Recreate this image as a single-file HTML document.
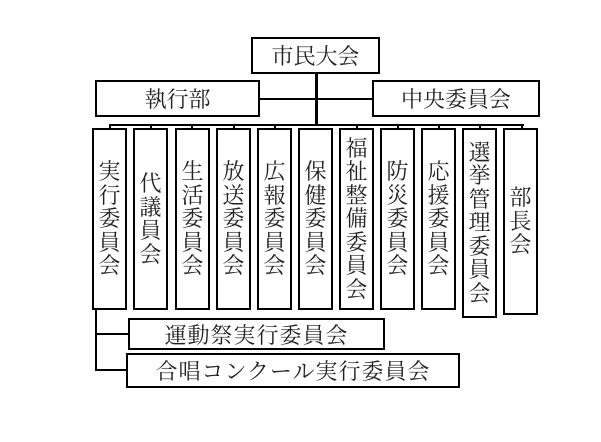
<!DOCTYPE html>
<html><head><meta charset="utf-8"><style>
body{margin:0;width:601px;height:442px;background:#fff;position:relative;overflow:hidden;font-family:"Liberation Serif","Noto Serif CJK JP","Noto Serif CJK SC",serif;}
.b{position:absolute;border:2px solid #000;box-sizing:border-box;background:#fff;display:flex;align-items:center;justify-content:center;font-size:22px;color:#222;white-space:nowrap;}
.v{flex-direction:column;line-height:23.5px;}
.l{position:absolute;background:#000;}
</style></head><body>
<div class="l" style="left:315px;top:72px;width:3px;height:54px"></div>
<div class="l" style="left:258px;top:98px;width:116px;height:2px"></div>
<div class="l" style="left:110px;top:124px;width:414px;height:2px"></div>
<div class="b" style="left:251px;top:37px;width:129px;height:37px">市民大会</div>
<div class="b" style="left:95px;top:80px;width:165px;height:37px">執行部</div>
<div class="b" style="left:372px;top:80px;width:168px;height:37px">中央委員会</div>

<div class="l" style="left:109px;top:124px;width:2px;height:6px"></div>
<div class="l" style="left:150px;top:124px;width:2px;height:6px"></div>
<div class="l" style="left:191px;top:124px;width:2px;height:6px"></div>
<div class="l" style="left:233px;top:124px;width:2px;height:6px"></div>
<div class="l" style="left:274px;top:124px;width:2px;height:6px"></div>
<div class="l" style="left:356px;top:124px;width:2px;height:6px"></div>
<div class="l" style="left:397px;top:124px;width:2px;height:6px"></div>
<div class="l" style="left:438px;top:124px;width:2px;height:6px"></div>
<div class="l" style="left:479px;top:124px;width:2px;height:6px"></div>
<div class="l" style="left:521px;top:124px;width:2px;height:6px"></div>

<div class="b v" style="left:92px;top:128px;width:35px;height:182px"><span>実</span><span>行</span><span>委</span><span>員</span><span>会</span></div>
<div class="b v" style="left:133px;top:128px;width:35px;height:182px"><span>代</span><span>議</span><span>員</span><span>会</span></div>
<div class="b v" style="left:175px;top:128px;width:35px;height:182px"><span>生</span><span>活</span><span>委</span><span>員</span><span>会</span></div>
<div class="b v" style="left:216px;top:128px;width:35px;height:182px"><span>放</span><span>送</span><span>委</span><span>員</span><span>会</span></div>
<div class="b v" style="left:257px;top:128px;width:35px;height:182px"><span>広</span><span>報</span><span>委</span><span>員</span><span>会</span></div>
<div class="b v" style="left:298px;top:128px;width:35px;height:182px"><span>保</span><span>健</span><span>委</span><span>員</span><span>会</span></div>
<div class="b v" style="left:339px;top:128px;width:35px;height:182px"><span>福</span><span>祉</span><span>整</span><span>備</span><span>委</span><span>員</span><span>会</span></div>
<div class="b v" style="left:380px;top:128px;width:35px;height:182px"><span>防</span><span>災</span><span>委</span><span>員</span><span>会</span></div>
<div class="b v" style="left:421px;top:128px;width:35px;height:182px"><span>応</span><span>援</span><span>委</span><span>員</span><span>会</span></div>
<div class="b v" style="left:462px;top:128px;width:35px;height:190px"><span>選</span><span>挙</span><span>管</span><span>理</span><span>委</span><span>員</span><span>会</span></div>
<div class="b v" style="left:503px;top:128px;width:35px;height:187px"><span>部</span><span>長</span><span>会</span></div>

<div class="l" style="left:95px;top:309px;width:2px;height:62px"></div>
<div class="l" style="left:95px;top:333px;width:34px;height:2px"></div>
<div class="l" style="left:95px;top:369px;width:32px;height:2px"></div>
<div class="b" style="left:128px;top:318px;width:257px;height:32px;letter-spacing:1px">運動祭実行委員会</div>
<div class="b" style="left:126px;top:353px;width:334px;height:35px;letter-spacing:1px">合唱コンクール実行委員会</div>
</body></html>
